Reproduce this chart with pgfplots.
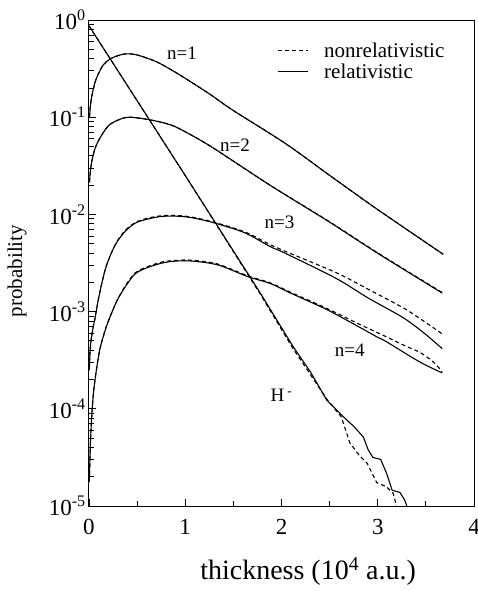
\documentclass[border=0pt]{standalone}
\usepackage{fontspec}
\setmainfont{Liberation Serif}
\usepackage{pgfplots}
\pgfplotsset{compat=1.18}
\tikzset{nonrel/.style={black, line width=1.1pt, dash pattern=on 4pt off 3pt},
         rel/.style={black, line width=1.1pt}}
\begin{document}
\begin{tikzpicture}
\useasboundingbox (-89pt,-85pt) rectangle (388pt,506pt);
\begin{axis}[
  at={(0pt,0pt)}, anchor=south west,
  scale only axis, width=385pt, height=486pt,
  xmin=0, xmax=4, ymode=log, ymin=1e-5, ymax=1,
  xtick={0,1,2,3,4}, minor xtick={0.5,1.5,2.5,3.5},
  ytick={1e-5,1e-4,1e-3,1e-2,1e-1,1},
  minor ytick={2e-5,3e-5,4e-5,5e-5,6e-5,7e-5,8e-5,9e-5,2e-4,3e-4,4e-4,5e-4,6e-4,7e-4,8e-4,9e-4,2e-3,3e-3,4e-3,5e-3,6e-3,7e-3,8e-3,9e-3,2e-2,3e-2,4e-2,5e-2,6e-2,7e-2,8e-2,9e-2,0.2,0.3,0.4,0.5,0.6,0.7,0.8,0.9},
  yticklabels={10\textsuperscript{-5},10\textsuperscript{-4},10\textsuperscript{-3},10\textsuperscript{-2},10\textsuperscript{-1},10\textsuperscript{0}},
  xticklabels={0,1,2,3,4},
  tick align=inside, xtick pos=left, ytick pos=left,
  major tick length=7pt, minor tick length=5pt,
  every tick/.style={black, line width=0.8pt},
  axis line style={line width=1pt},
  tick label style={font=\fontsize{23}{24}\selectfont, inner sep=0pt},
  xticklabel style={yshift=-13pt},
  yticklabel style={xshift=-3pt},
  xlabel={thickness (10\textsuperscript{4} a.u.)},
  ylabel={probability},
  every axis x label/.style={at={(axis description cs:0.569,-0.134)}, anchor=center, font=\fontsize{28}{30}\selectfont},
  every axis y label/.style={at={(axis description cs:-0.187,0.4835)}, rotate=90, anchor=center, font=\fontsize{21}{23}\selectfont},
  legend style={at={(axis description cs:0.488,0.958)}, anchor=north west, draw=none, fill=none, inner sep=0pt,
     font=\fontsize{21}{21}\selectfont, row sep=1pt, column sep=14pt},
  legend cell align=left,
  legend image code/.code={\draw[#1] (0pt,0pt) -- (30pt,0pt);},
]
\addlegendimage{nonrel}
\addlegendentry{nonrelativistic}
\addlegendimage{rel}
\addlegendentry{relativistic}

% n=1
\addplot[nonrel, smooth, forget plot] coordinates {(0.005,0.100) (0.015,0.132) (0.03,0.166) (0.06,0.224) (0.09,0.269) (0.15,0.347) (0.24,0.407) (0.37,0.447) (0.5,0.437) (0.7,0.372) (0.85,0.309) (1.0,0.251) (1.25,0.174) (1.5,0.117) (2.04,0.0537) (2.53,0.0240) (3.0,0.0112) (3.68,0.00389)};
\addplot[rel, smooth, forget plot] coordinates {(0.005,0.100) (0.015,0.132) (0.03,0.166) (0.06,0.224) (0.09,0.269) (0.15,0.347) (0.24,0.407) (0.37,0.447) (0.5,0.437) (0.7,0.372) (0.85,0.309) (1.0,0.251) (1.25,0.174) (1.5,0.117) (2.04,0.0537) (2.53,0.0240) (3.0,0.0112) (3.68,0.00389)};
% n=2
\addplot[nonrel, smooth, forget plot] coordinates {(0.005,0.0214) (0.015,0.0282) (0.03,0.0355) (0.06,0.0468) (0.11,0.0603) (0.2,0.0813) (0.3,0.0933) (0.42,0.100) (0.65,0.0933) (0.85,0.0832) (1.0,0.0708) (1.28,0.0490) (1.88,0.0200) (2.5,0.00840) (3.0,0.00402) (3.67,0.00157)};
\addplot[rel, smooth, forget plot] coordinates {(0.005,0.0214) (0.015,0.0282) (0.03,0.0355) (0.06,0.0468) (0.11,0.0603) (0.2,0.0813) (0.3,0.0933) (0.42,0.100) (0.65,0.0933) (0.85,0.0832) (1.0,0.0708) (1.28,0.0490) (1.88,0.0200) (2.5,0.00832) (3.0,0.00398) (3.67,0.00155)};
% n=3
\addplot[nonrel, smooth, forget plot] coordinates {(0.003,2.5e-4) (0.015,4.47e-4) (0.04,6.61e-4) (0.06,8.32e-4) (0.08,1.07e-3) (0.10,1.38e-3) (0.14,2.09e-3) (0.18,2.95e-3) (0.24,4.17e-3) (0.30,5.45e-3) (0.38,6.90e-3) (0.48,8.25e-3) (0.6,9.10e-3) (0.76,9.70e-3) (0.95,9.70e-3) (1.10,9.25e-3) (1.31,8.25e-3) (1.62,6.60e-3) (1.88,4.90e-3) (2.04,4.17e-3) (2.57,2.51e-3) (2.9,1.70e-3) (3.26,1.10e-3) (3.48,7.94e-4) (3.67,5.89e-4)};
\addplot[rel, smooth, forget plot] coordinates {(0.003,2.5e-4) (0.015,4.47e-4) (0.04,6.61e-4) (0.06,8.32e-4) (0.08,1.07e-3) (0.10,1.38e-3) (0.14,2.09e-3) (0.18,2.95e-3) (0.24,4.17e-3) (0.30,5.37e-3) (0.38,6.76e-3) (0.48,8.13e-3) (0.6,8.91e-3) (0.76,9.55e-3) (0.95,9.55e-3) (1.10,9.12e-3) (1.31,8.13e-3) (1.62,6.46e-3) (1.88,4.68e-3) (2.04,3.98e-3) (2.57,2.19e-3) (2.9,1.38e-3) (3.26,8.71e-4) (3.48,6.03e-4) (3.61,4.68e-4) (3.67,4.17e-4)};
% n=4
\addplot[nonrel, smooth, forget plot] coordinates {(0.003,1.78e-5) (0.015,4.47e-5) (0.03,8.91e-5) (0.05,1.58e-4) (0.08,2.63e-4) (0.11,3.98e-4) (0.15,5.62e-4) (0.2,7.94e-4) (0.29,1.29e-3) (0.38,1.86e-3) (0.48,2.50e-3) (0.6,2.88e-3) (0.76,3.24e-3) (0.9,3.36e-3) (1.07,3.38e-3) (1.34,3.08e-3) (1.65,2.33e-3) (1.88,1.98e-3) (2.12,1.54e-3) (2.47,1.08e-3) (2.81,7.41e-4) (3.09,5.50e-4) (3.30,4.37e-4) (3.44,3.80e-4) (3.58,3.02e-4) (3.67,2.40e-4)};
\addplot[rel, smooth, forget plot] coordinates {(0.003,1.78e-5) (0.015,4.47e-5) (0.03,8.91e-5) (0.05,1.58e-4) (0.08,2.63e-4) (0.11,3.98e-4) (0.15,5.62e-4) (0.2,7.94e-4) (0.29,1.29e-3) (0.38,1.82e-3) (0.48,2.45e-3) (0.6,2.82e-3) (0.76,3.16e-3) (0.9,3.31e-3) (1.07,3.31e-3) (1.34,3.02e-3) (1.65,2.29e-3) (1.88,1.95e-3) (2.12,1.51e-3) (2.47,1.05e-3) (2.81,6.92e-4) (2.99,5.50e-4) (3.09,4.90e-4) (3.44,3.02e-4) (3.67,2.34e-4)};
% H-
\addplot[nonrel, forget plot] coordinates {(0,0.871) (1.0,0.0251) (1.78,1.51e-3) (2.12,4.17e-4) (2.47,1.26e-4) (2.62,8.3e-5) (2.71,4.47e-5) (2.80,3.39e-5) (2.89,2.75e-5) (2.99,1.74e-5) (3.09,1.58e-5) (3.16,1.35e-5) (3.20,9.5e-6)};
\addplot[rel, forget plot] coordinates {(0,0.871) (1.0,0.0251) (1.78,1.55e-3) (2.12,4.37e-4) (2.30,2.40e-4) (2.47,1.23e-4) (2.64,8.32e-5) (2.75,6.61e-5) (2.85,5.13e-5) (2.90,3.80e-5) (2.95,3.16e-5) (3.03,3.02e-5) (3.09,2.19e-5) (3.15,1.45e-5) (3.23,1.38e-5) (3.28,1.15e-5) (3.31,9.5e-6)};

\node[font=\fontsize{19}{19}\selectfont] at (axis cs:0.966,0.457) {n=1};
\node[font=\fontsize{19}{19}\selectfont] at (axis cs:1.516,0.0518) {n=2};
\node[font=\fontsize{19}{19}\selectfont] at (axis cs:1.98,0.0082) {n=3};
\node[font=\fontsize{19}{19}\selectfont] at (axis cs:2.71,4.03e-4) {n=4};
\node[font=\fontsize{19}{19}\selectfont] at (axis cs:2.0,1.38e-4) {H\,\textsuperscript{-}};
\end{axis}
\end{tikzpicture}
\end{document}
